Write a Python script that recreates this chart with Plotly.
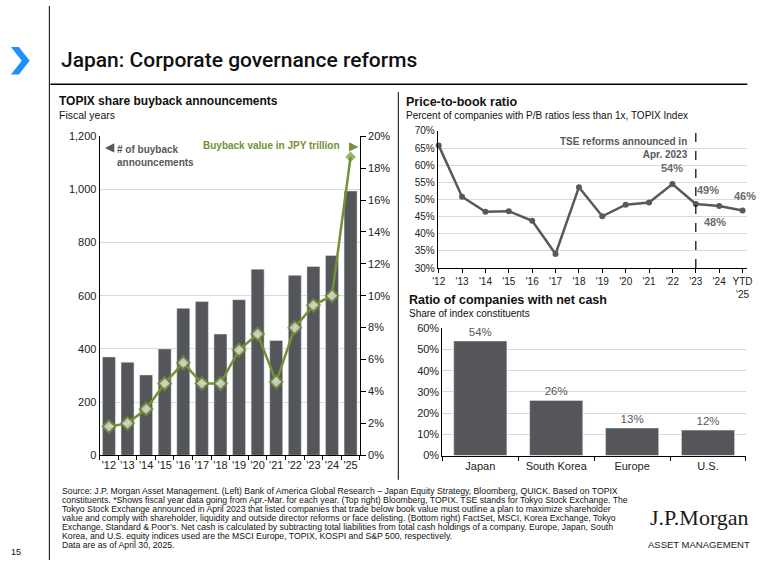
import plotly.graph_objects as go

W, H = 769, 566

# ---------------- data ----------------
fiscal_years = ["'12", "'13", "'14", "'15", "'16", "'17", "'18", "'19", "'20", "'21", "'22", "'23", "'24", "'25"]
buyback_counts = [370, 350, 302, 400, 553, 578, 456, 585, 700, 432, 677, 710, 751, 994]
buyback_value_pct = [1.8, 2.0, 2.9, 4.5, 5.8, 4.5, 4.5, 6.6, 7.6, 4.6, 8.0, 9.4, 10.0, 18.7]

pb_years = ["'12", "'13", "'14", "'15", "'16", "'17", "'18", "'19", "'20", "'21", "'22", "'23", "'24", "YTD<br>'25"]
pb_below_1x = [65.8, 50.8, 46.4, 46.6, 43.8, 34.1, 53.6, 45.1, 48.5, 49.1, 54.5, 48.7, 48.1, 46.8]
pb_labels = {"'22": "54%", "'23": "49%", "'24": "48%", "YTD<br>'25": "46%"}

cash_regions = ["Japan", "South Korea", "Europe", "U.S."]
cash_share = [54, 26, 13, 12]

footnote_lines = [
    "Source: J.P. Morgan Asset Management. (Left) Bank of America Global Research \u2013 Japan Equity Strategy, Bloomberg, QUICK. Based on TOPIX",
    "constituents. *Shows fiscal year data going from Apr.-Mar. for each year. (Top right) Bloomberg, TOPIX. TSE stands for Tokyo Stock Exchange. The",
    "Tokyo Stock Exchange announced in April 2023 that listed companies that trade below book value must outline a plan to maximize shareholder",
    "value and comply with shareholder, liquidity and outside director reforms or face delisting. (Bottom right) FactSet, MSCI, Korea Exchange, Tokyo",
    "Exchange, Standard &amp; Poor\u2019s. Net cash is calculated by subtracting total liabilities from total cash holdings of a company. Europe, Japan, South",
    "Korea, and U.S. equity indices used are the MSCI Europe, TOPIX, KOSPI and S&amp;P 500, respectively.",
    "Data are as of April 30, 2025.",
]

# ---------------- styles ----------------
BAR = "#54565a"
GREEN = "#739234"
GRID = "#d9d9d9"
LABEL = "#595959"
FONT = "Liberation Sans, Arial, sans-serif"


def px(x):
    return x / W


def py(y):
    return 1 - y / H


fig = go.Figure()

# Left: buybacks
fig.add_trace(go.Bar(x=fiscal_years, y=buyback_counts, marker_color=BAR, xaxis="x", yaxis="y",
                     showlegend=False, hoverinfo="x+y"))
fig.add_trace(go.Scatter(x=fiscal_years, y=buyback_value_pct, xaxis="x", yaxis="y2", mode="lines+markers",
                         line=dict(color=GREEN, width=2.5),
                         marker=dict(symbol="diamond", size=[10] * 13 + [6],
                                     color=["#f2f6e8"] * 13 + [GREEN],
                                     line=dict(color=GREEN, width=2)),
                         showlegend=False, cliponaxis=False))

# Top right: P/B
fig.add_trace(go.Scatter(x=pb_years, y=pb_below_1x, xaxis="x2", yaxis="y3", mode="lines+markers",
                         line=dict(color="#595959", width=2.5),
                         marker=dict(size=6, color="#595959"), showlegend=False, cliponaxis=False))

# Bottom right: net cash
fig.add_trace(go.Bar(x=cash_regions, y=cash_share, marker_color=BAR, xaxis="x3", yaxis="y4",
                     text=[f"{v}%" for v in cash_share], textposition="outside", cliponaxis=False,
                     textfont=dict(size=11.5, color=LABEL), showlegend=False))

axis_common = dict(linecolor="#000", tickfont=dict(size=11, color="#222"), zeroline=False)

fig.update_layout(
    width=W, height=H, autosize=False,
    margin=dict(l=0, r=0, t=0, b=0),
    paper_bgcolor="white", plot_bgcolor="white",
    font=dict(family=FONT, color="#222"),
    bargap=0.3,
    xaxis=dict(domain=[px(95), px(359)], anchor="y", type="category", showline=True, tickangle=0,
               range=[-0.5, len(fiscal_years) - 0.5],
               ticks="outside", ticklen=4, tickson="boundaries", tickcolor="#000", showgrid=False,
               **axis_common),
    yaxis=dict(domain=[py(459), py(133)], anchor="x", range=[0, 1200], dtick=200, tickformat=",",
               showline=True, showgrid=True, gridcolor=GRID, ticks="", **axis_common),
    yaxis2=dict(overlaying="y", anchor="x", side="right", range=[0, 20], dtick=2, ticksuffix="%",
                showline=True, showgrid=False, ticks="outside", ticklen=5, tickcolor="#000",
                **axis_common),
    xaxis2=dict(domain=[px(438), px(752)], anchor="y3", type="category", range=[-0.04, 13.2],
                showline=True, ticks="outside", ticklen=4, tickcolor="#000", showgrid=False, tickangle=0,
                linecolor="#000", tickfont=dict(size=10, color="#222"), zeroline=False),
    yaxis3=dict(domain=[py(267.7), py(127.7)], anchor="x2", range=[30, 70], dtick=5, ticksuffix="%",
                showline=True, showgrid=True, gridcolor=GRID, ticks="",
                linecolor="#000", tickfont=dict(size=10, color="#222"), zeroline=False),
    xaxis3=dict(domain=[px(442.7), px(750.7)], anchor="y4", type="category", showline=True, tickangle=0,
                range=[-0.5, len(cash_regions) - 0.5],
                ticks="outside", ticklen=4, tickson="boundaries", tickcolor="#000", showgrid=False,
                **axis_common),
    yaxis4=dict(domain=[py(459.3), py(329.3)], anchor="x3", range=[0, 60], dtick=10, ticksuffix="%",
                showline=True, showgrid=True, gridcolor=GRID, ticks="", **axis_common),
)

ann = []


def text(x, y, s, size, color="#222", xanchor="left", yanchor="middle", family=FONT, align="left", weight=None):
    f = dict(size=size, color=color, family=family)
    if weight:
        f["weight"] = weight
    ann.append(dict(x=px(x), y=py(y), xref="paper", yref="paper", text=s, showarrow=False,
                    xanchor=xanchor, yanchor=yanchor, align=align, font=f))


text(54, 55, "Japan: Corporate governance reforms", 21, "#111", family="Roboto, Liberation Sans", weight=500)
text(52, 97, "<b>TOPIX share buyback announcements</b>", 12, "#111")
text(52, 111, "Fiscal years", 10.5, "#111")
text(404, 98, "<b>Price-to-book ratio</b>", 12.5, "#111")
text(404, 112, "Percent of companies with P/B ratios less than 1x, TOPIX Index", 10, "#111")
text(407, 300, "<b>Ratio of companies with net cash</b>", 12.5, "#111")
text(407, 314, "Share of index constituents", 10, "#111")

# legend-like labels, left chart
text(98, 144, "\u25C0", 12, "#595959")
text(111, 139, "<b># of buyback<br>announcements</b>", 10, LABEL, yanchor="top")
text(341, 143, "<b>Buyback value in JPY trillion</b>", 10, GREEN, xanchor="right")
text(346, 143, "\u25B6", 12, GREEN)

# P/B annotation
text(694, 131, "<b>TSE reforms announced in<br>Apr. 2023</b>", 10, LABEL, xanchor="right",
     yanchor="top", align="right")

# P/B data labels
offsets = {"'22": (0, 16), "'23": (12, 14), "'24": (-4, -16), "YTD<br>'25": (2, 14)}
for k, lab in pb_labels.items():
    i = pb_years.index(k)
    dx, dy = offsets[k]
    ann.append(dict(x=pb_years[i], y=pb_below_1x[i], xref="x2", yref="y3", text="<b>" + lab + "</b>",
                    showarrow=False, xshift=dx, yshift=dy,
                    font=dict(size=11, color="#6b6b6b", family=FONT)))

# footnotes
for i, line in enumerate(footnote_lines):
    text(55, 496 + i * 9.17, line, 8.7, "#111", family="Liberation Sans Narrow, Arial Narrow, Liberation Sans")

text(3, 558, "15", 9, "#111")
text(704, 523, "J.P.Morgan", 22, "#1a1a1a", xanchor="center", family="Liberation Serif, Times New Roman, serif")
text(703, 550, "ASSET MANAGEMENT", 9.5, "#1a1a1a", xanchor="center")

fig.update_layout(annotations=ann)

shapes = [
    dict(type="line", xref="paper", yref="paper", x0=px(44), x1=px(44), y0=py(0), y1=py(566),
         line=dict(color="#000", width=1)),
    dict(type="line", xref="paper", yref="paper", x0=px(45), x1=px(752), y0=py(80), y1=py(80),
         line=dict(color="#000", width=1.5)),
    dict(type="line", xref="paper", yref="paper", x0=px(398), x1=px(398), y0=py(88), y1=py(484),
         line=dict(color="#000", width=1)),
    dict(type="line", xref="x2", yref="y3", x0=pb_years.index("'23"), x1=pb_years.index("'23"),
         y0=30, y1=70, line=dict(color="#000", width=1.2, dash="dash")),
]
chev = [(5, 42), (13, 42), (24, 56), (13, 70), (5, 70), (16, 56)]
path = "M " + " L ".join(f"{px(a):.5f},{py(b):.5f}" for a, b in chev) + " Z"
shapes.append(dict(type="path", xref="paper", yref="paper", path=path,
                   fillcolor="#1e8fff", line=dict(width=0)))
fig.update_layout(shapes=shapes)

fig.write_html(
    "out.html",
    config={"displayModeBar": False},
    post_script="document.documentElement.style.margin='0';document.body.style.margin='0';"
                "document.documentElement.style.overflow='hidden';document.body.style.overflow='hidden';",
)
